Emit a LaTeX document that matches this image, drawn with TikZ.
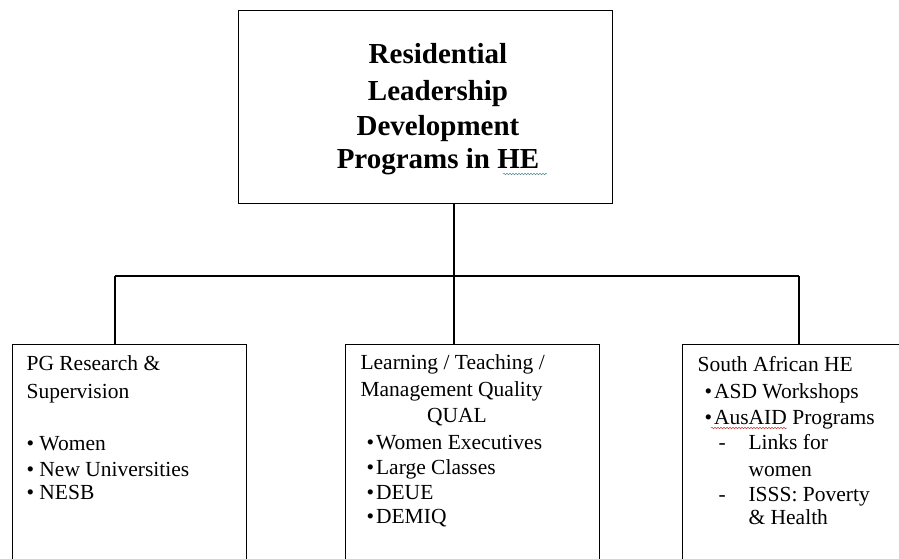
\documentclass[tikz,border=0pt]{standalone}
\usepackage{fontspec}
\setmainfont{Liberation Serif}
\usetikzlibrary{decorations.pathmorphing}
\definecolor{gramgreen}{RGB}{90,140,150}
\definecolor{spellred}{RGB}{200,60,60}
\newcommand{\tightbul}{\textbullet\hspace{2pt}}
\begin{document}
\begin{tikzpicture}[x=1pt,y=-1pt,line width=1.1pt,
  box/.style={draw=black, inner sep=0pt, anchor=north west},
  ttl/.style={anchor=base, inner sep=0pt, font=\fontsize{29}{35}\selectfont\bfseries},
  txt/.style={anchor=base west, inner sep=0pt, font=\fontsize{21.5}{25}\selectfont},
  wavy/.style={decorate, decoration={snake, amplitude=0.8pt, segment length=3pt}, line width=0.5pt}]
\useasboundingbox (0,0) rectangle (899,558);
\clip (0,0) rectangle (899,558);
\fill[white] (0,0) rectangle (899,558);

% top box
\node[box, minimum width=374pt, minimum height=193pt] (top) at (238,10) {};
\node[ttl] (t1) at (438,63) {Residential};
\node[ttl] (t2) at (438,100) {Leadership};
\node[ttl] (t3) at (438,135) {Development};
\node[ttl] (t4) at (438,168) {Programs in HE};
\coordinate (heA) at (503,174);
\coordinate (heB) at (547,174);
\draw[wavy, gramgreen] (heA) -- (heB);

% bottom boxes (open at the bottom: they run past the page)
\node[box, minimum width=234pt, minimum height=260pt] (pg) at (12,344) {};
\node[box, minimum width=254pt, minimum height=260pt] (lt) at (345,344) {};
\node[box, minimum width=280pt, minimum height=260pt] (sa) at (682,344) {};

% connectors
\coordinate (j) at (454,276);
\coordinate (jl) at (115,276);
\coordinate (jr) at (799,276);
\draw (top.south -| j) -- (j);
\draw (jl) -- (jr);
\draw (jl) -- (jl |- pg.north);
\draw (j) -- (j |- lt.north);
\draw (jr) -- (jr |- sa.north);

% left box text
\node[txt] (a1) at (26,370) {PG Research \&};
\node[txt] (a2) at (26,398) {Supervision};
\node[txt] (a3) at (26,450) {\textbullet{} Women};
\node[txt] (a4) at (26,476) {\textbullet{} New Universities};
\node[txt] (a5) at (26,499) {\textbullet{} NESB};

% middle box text
\node[txt] (b1) at (360,369) {Learning / Teaching /};
\node[txt] (b2) at (360,396) {Management Quality};
\node[txt, anchor=base] (b3) at (457,422) {QUAL};
\node[txt] (b4) at (366,449) {\tightbul Women Executives};
\node[txt] (b5) at (366,474) {\tightbul Large Classes};
\node[txt] (b6) at (366,499) {\tightbul DEUE};
\node[txt] (b7) at (366,523) {\tightbul DEMIQ};

% right box text
\node[txt] (c1) at (697,371) {South African HE};
\node[txt] (c2) at (704,398) {\tightbul ASD Workshops};
\node[txt] (c3) at (704,424) {\tightbul AusAID Programs};
\node[txt] (c4d) at (718,449) {-};
\node[txt] (c4) at (748,449) {Links for};
\node[txt] (c5) at (748,476) {women};
\node[txt] (c6d) at (718,501) {-};
\node[txt] (c6) at (748,501) {ISSS: Poverty};
\node[txt] (c7) at (748,524) {\& Health};
\coordinate (auA) at (711,428);
\coordinate (auB) at (787,428);
\draw[wavy, spellred] (auA) -- (auB);
\end{tikzpicture}
\end{document}
